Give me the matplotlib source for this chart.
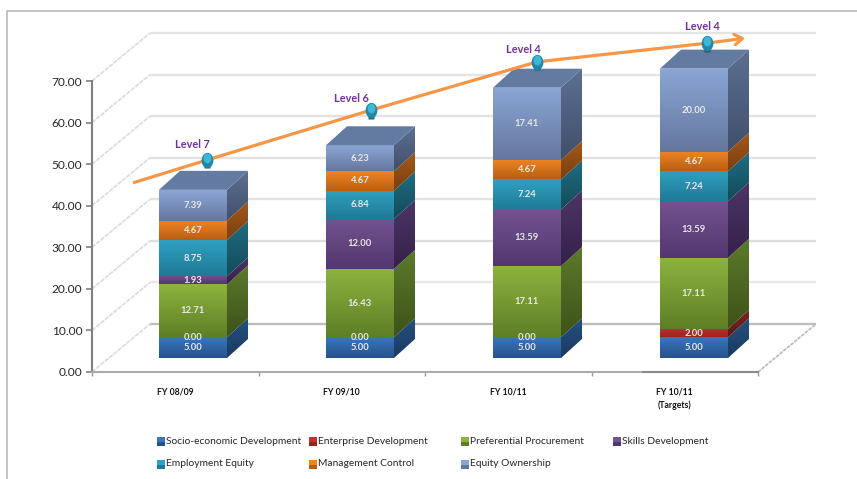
import numpy as np
import matplotlib
matplotlib.use("Agg")
import matplotlib.pyplot as plt
from matplotlib.patches import Polygon, Rectangle
from matplotlib.path import Path
from matplotlib.transforms import Affine2D

plt.rcParams['font.family'] = ['Lato', 'DejaVu Sans']

categories = ['FY 08/09', 'FY 09/10', 'FY 10/11', 'FY 10/11\n(Targets)']
socio_economic = [5.00, 5.00, 5.00, 5.00]
enterprise = [0.00, 0.00, 0.00, 2.00]
preferential = [12.71, 16.43, 17.11, 17.11]
skills = [1.93, 12.00, 13.59, 13.59]
employment = [8.75, 6.84, 7.24, 7.24]
management = [4.67, 4.67, 4.67, 4.67]
equity = [7.39, 6.23, 17.41, 20.00]
series_names = ['Socio-economic Development', 'Enterprise Development',
                'Preferential Procurement', 'Skills Development',
                'Employment Equity', 'Management Control', 'Equity Ownership']
levels = ['Level 7', 'Level 6', 'Level 4', 'Level 4']
level_heights = [51.0, 63.0, 74.6, 79.1]
trend_start = 45.5
trend_end = 80.3

series = [socio_economic, enterprise, preferential, skills, employment, management, equity]
# (front top, front bottom, side top, side bottom)
palette = [
    ('#3a76bd', '#25528c', '#25507f', '#1a3a60'),
    ('#bd3330', '#93261f', '#7f2420', '#5c1916'),
    ('#8db33f', '#5f7f26', '#5c7b2b', '#3e5219'),
    ('#72528f', '#533770', '#4d3565', '#34214a'),
    ('#30a1c2', '#1f7a96', '#1f6e82', '#134a59'),
    ('#f08424', '#b85f14', '#a6591a', '#793f10'),
    ('#8ba6d4', '#64779f', '#5c7092', '#414f6a'),
]

W, H = 857, 479
X0, X1, Y0, Y1 = 92, 758, 372, 81
fig = plt.figure(figsize=(W / 100, H / 100), dpi=100, facecolor='white')
ax = fig.add_axes([X0 / W, (H - Y0) / H, (X1 - X0) / W, (Y0 - Y1) / H])
ax.patch.set_visible(False)

px_x = 4 / (X1 - X0)          # axis units per horizontal pixel
px_y = 70 / (Y0 - Y1)         # axis units per vertical pixel
wall_dx, wall_dy = 58 * px_x, 48 * px_y
depth_dx, depth_dy = 21 * px_x, 19 * px_y
bar_width = 68 * px_x
bar_base = 14 * px_y
bar_lefts = [(p - X0) * px_x for p in (159, 326, 493, 660)]


def hex_rgb(c):
    return np.array(matplotlib.colors.to_rgb(c))


def gradient_fill(verts, top, bottom, zorder):
    """Fill a polygon with a vertical two-colour gradient."""
    verts = np.array(verts)
    t = np.linspace(0, 1, 48)[:, None, None]
    img = hex_rgb(top)[None, None, :] * (1 - t) + hex_rgb(bottom)[None, None, :] * t
    ext = (verts[:, 0].min(), verts[:, 0].max(), verts[:, 1].min(), verts[:, 1].max())
    im = ax.imshow(img, extent=ext, aspect='auto', origin='upper', zorder=zorder,
                   interpolation='bilinear')
    clip = Polygon(verts, closed=True, transform=ax.transData)
    im.set_clip_box(fig.bbox)
    im.set_clip_path(clip)


# Back wall gridlines and the receding lines joining them to the value axis
wall_colors = ['#bdbdbd', '#e8e8e8', '#dedede', '#e2e2e2', '#e2e2e2', '#e2e2e2', '#e4e4e4', '#e4e4e4']
for v, c in zip(range(0, 80, 10), wall_colors):
    ax.plot([wall_dx, 4 + wall_dx], [v + wall_dy] * 2, color=c, lw=1.7, clip_on=False,
            zorder=1, solid_capstyle='butt')
    ax.plot([0, wall_dx], [v, v + wall_dy], color='#dddddd', lw=1.3, ls=(0, (2.5, 0.6)),
            clip_on=False, zorder=1)
ax.plot([4, 4 + wall_dx], [0, wall_dy], color='#bcbcbc', lw=1.3, ls=(0, (2, 0.6)),
        clip_on=False, zorder=1)

# Stacked columns with front, side and top faces
for i, left in enumerate(bar_lefts):
    bottom = bar_base
    right = left + bar_width
    for vals, (ft, fb, st, sb) in zip(series, palette):
        v = vals[i]
        top = bottom + v
        if v > 0:
            gradient_fill([(right, bottom), (right + depth_dx, bottom + depth_dy),
                           (right + depth_dx, top + depth_dy), (right, top)], st, sb, 3)
            gradient_fill([(left, bottom), (right, bottom), (right, top), (left, top)], ft, fb, 4)
        ax.text(left + bar_width / 2, (bottom + top) / 2, f'{v:.2f}', color='#e8e8e8',
                fontsize=6.8, fontweight='bold', ha='center', va='center', zorder=6, clip_on=False)
        bottom = top
    ax.add_patch(Polygon([(left, bottom), (right, bottom), (right + depth_dx, bottom + depth_dy),
                          (left + depth_dx, bottom + depth_dy)], closed=True, facecolor='#637aa1',
                         edgecolor='none', zorder=4, clip_on=False))

# Rising trend line with its arrowhead
slot_x = [(p - X0) * px_x for p in (207, 371, 537, 707)]
trend_color = '#f79646'
line_x = [(133 - X0) * px_x] + slot_x
line_y = [trend_start] + level_heights
ax.plot(line_x, line_y, color=trend_color, lw=2.3, clip_on=False, zorder=7, solid_capstyle='butt')
ax.annotate('', xy=((745 - X0) * px_x, trend_end), xytext=(slot_x[-1], level_heights[-1]),
            arrowprops=dict(arrowstyle='->,head_length=0.55,head_width=0.38', color=trend_color,
                            lw=2.3, shrinkA=0, shrinkB=0), annotation_clip=False, zorder=7)

# Balloon markers and the level captions above them
balloon = Path.unit_circle().transformed(Affine2D().scale(1, 1.3))
highlight = Path.unit_circle().transformed(Affine2D().scale(0.8, 1))
ax.plot(slot_x, np.array(level_heights) - 1.3, ls='none', marker='s', ms=4.8, color='#1b6478',
        mec='none', clip_on=False, zorder=8)
ax.plot(slot_x, level_heights, ls='none', marker=balloon, ms=11, color='#1f88a8', mec='none',
        clip_on=False, zorder=9)
ax.plot(slot_x, np.array(level_heights) + 0.5, ls='none', marker=highlight, ms=7, color='#3fb6d4',
        mec='none', clip_on=False, zorder=10)
label_px = [(192, 144), (351, 98), (523, 49), (702, 26)]
for text, (lx, ly) in zip(levels, label_px):
    ax.text((lx - X0) * px_x, (Y0 - ly) * px_y, text, color='#7030a0', fontsize=7.8,
            fontweight='bold', ha='center', va='center', clip_on=False, zorder=10)

# Axes
ax.set_xlim(0, 4)
ax.set_ylim(0, 70)
ax.set_yticks(range(0, 80, 10))
ax.set_yticklabels([f'{v:.2f}' for v in range(0, 80, 10)], fontsize=8.6, color='#262626')
ax.set_xticks(range(5))
ax.set_xticklabels([])
ax.set_xticks(np.arange(4) + 0.5, minor=True)
ax.set_xticklabels(categories, minor=True, fontsize=6.2, fontweight='bold', color='#111111',
                   linespacing=1.5, va='top')
ax.tick_params(axis='x', which='major', length=3, width=1, color='#9a9a9a')
ax.tick_params(axis='x', which='minor', length=0, pad=11)
ax.tick_params(axis='y', length=4, width=1.2, color='#808080', pad=3)
for s in ('top', 'right'):
    ax.spines[s].set_visible(False)
ax.spines['left'].set_color('#808080')
ax.spines['left'].set_linewidth(1.5)
ax.spines['bottom'].set_color('#ababab')
ax.spines['bottom'].set_linewidth(1.5)
ax.plot([3.31, 4], [0, 0], color='#8a8a8a', lw=1.5, clip_on=False, zorder=3)

# Legend entries on a fixed grid
leg_x = [157, 157 + 152, 461, 613]
leg_pos = [(0, 441), (1, 441), (2, 441), (3, 441), (0, 464), (1, 464), (2, 464)]
for name, (col, ly), (ft, fb, _, _) in zip(series_names, leg_pos, palette):
    lx = leg_x[col]
    for yy, hh, c in ((ly - 4, 5, ft), (ly + 1, 4, fb)):
        fig.add_artist(Rectangle((lx / W, (H - yy - hh) / H), 8 / W, hh / H, transform=fig.transFigure,
                                 facecolor=c, edgecolor='none'))
    fig.text((lx + 9) / W, (H - ly) / H, name, fontsize=7.4, color='#262626', va='center', ha='left')

# Outer frame, open on the right and at the bottom
fig.add_artist(plt.Line2D([7 / W, 7 / W, 1], [0, (H - 11) / H, (H - 11) / H], color='#bfbfbf',
                          lw=1.3, transform=fig.transFigure))

fig.savefig('out.png', dpi=100, facecolor='white')
